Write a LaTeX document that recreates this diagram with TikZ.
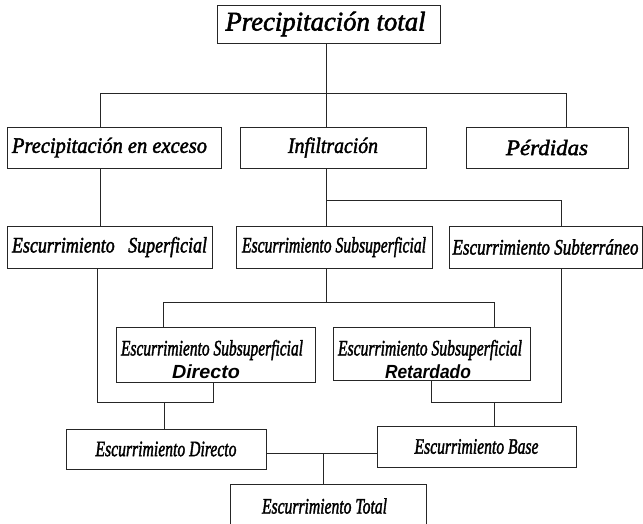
\documentclass[tikz,border=0pt]{standalone}
\usepackage{fontspec}
\usepackage{graphicx}
\setmainfont{Liberation Serif}
\newfontfamily\itfont{Liberation Serif Italic}[FakeBold=2]
\newfontfamily\dirfont{Liberation Sans Bold Italic}
\newcommand\FitTxt[3]{\resizebox{#1pt}{\height}{\fontsize{#2}{#2}\selectfont\itfont #3}}
\newcommand\FitSans[3]{\resizebox{#1pt}{\height}{\fontsize{#2}{#2}\selectfont\dirfont #3}}
\begin{document}
\begin{tikzpicture}[x=1pt,y=-1pt,
  box/.style={draw=black!85, line width=0.9pt, rectangle, inner sep=0pt},
  txt/.style={inner sep=0pt},
  link/.style={draw=black!85, line width=0.9pt}]
\useasboundingbox (0,0) rectangle (643,524);
\clip (0,0) rectangle (643,524);
% top
\node[box, minimum width=223pt, minimum height=38pt] (top) at (328.5,24) {\FitTxt{200}{27}{Precipitación total}\kern6pt};
% row 1
\node[box, minimum width=214pt, minimum height=41pt] (pe) at (114.5,147.5) {\FitTxt{195}{22}{Precipitación en exceso}\kern10pt};
\node[box, minimum width=186pt, minimum height=41pt] (inf) at (333,147.5) {\FitTxt{90}{22}{Infiltración}};
\node[box, minimum width=162pt, minimum height=41pt] (pd) at (547,147.5) {\FitTxt{82}{22}{Pérdidas}};
% row 2
\node[box, minimum width=205pt, minimum height=42pt] (es) at (109.5,247) {\FitTxt{195}{22}{Escurrimiento\hspace{0.5em} Superficial}};
\node[box, minimum width=196pt, minimum height=42pt] (ess) at (334,247) {\FitTxt{184}{22}{Escurrimiento Subsuperficial}};
\node[box, minimum width=193pt, minimum height=42pt] (est) at (545.5,247) {\FitTxt{186}{22}{Escurrimiento Subterráneo}};
% row 3
\node[box, minimum width=199pt, minimum height=55pt] (ssd) at (215.5,354.5) {};
\node[txt] (ssdt) at (212,350) {\FitTxt{182}{22}{Escurrimiento Subsuperficial}};
\node[txt] (ssdb) at (206,372) {\FitSans{68}{19}{Directo}};
\node[box, minimum width=197pt, minimum height=53pt] (ssr) at (431.5,353.5) {};
\node[txt] (ssrt) at (430,350) {\FitTxt{184}{22}{Escurrimiento Subsuperficial}};
\node[txt] (ssrb) at (428,372) {\FitSans{86}{19}{Retardado}};
% row 4
\node[box, minimum width=200pt, minimum height=40pt] (ed) at (166,449) {\FitTxt{141}{22}{Escurrimiento Directo}};
\node[box, minimum width=199pt, minimum height=41pt] (eb) at (476.5,446.5) {\FitTxt{124}{22}{Escurrimiento Base}};
% total
\node[box, minimum width=196pt, minimum height=44pt] (et) at (328,506) {\FitTxt{125}{22}{Escurrimiento Total}\kern7pt};
% junction coordinates
\coordinate (h1) at (326,93);
\coordinate (h1L) at (100,93);
\coordinate (h1R) at (566,93);
\coordinate (h2R) at (561,200);
\coordinate (h3L) at (163,302);
\coordinate (h3R) at (494,302);
\coordinate (jL) at (97,402);
\coordinate (jLm) at (213,402);
\coordinate (jLd) at (164,402);
\coordinate (jR) at (561,402);
\coordinate (jRm) at (431,402);
\coordinate (jRd) at (494,402);
\coordinate (jB) at (323,453);
% connectors
\draw[link] (top.south -| h1) -- (h1 |- inf.north);
\draw[link] (h1L |- pe.north) -- (h1L) -- (h1R) -- (h1R |- pd.north);
\draw[link] (h1L |- pe.south) -- (h1L |- es.north);
\draw[link] (h1 |- inf.south) -- (h1 |- ess.north);
\draw[link] (h1 |- h2R) -- (h2R) -- (h2R |- est.north);
\draw[link] (h1 |- ess.south) -- (h1 |- h3L);
\draw[link] (h3L |- ssd.north) -- (h3L) -- (h3R) -- (h3R |- ssr.north);
\draw[link] (jL |- es.south) -- (jL) -- (jLm) -- (jLm |- ssd.south);
\draw[link] (jLd) -- (jLd |- ed.north);
\draw[link] (jR |- est.south) -- (jR) -- (jRm) -- (jRm |- ssr.south);
\draw[link] (jRd) -- (jRd |- eb.north);
\draw[link] (ed.east |- jB) -- (eb.west |- jB);
\draw[link] (jB) -- (jB |- et.north);
\end{tikzpicture}
\end{document}
